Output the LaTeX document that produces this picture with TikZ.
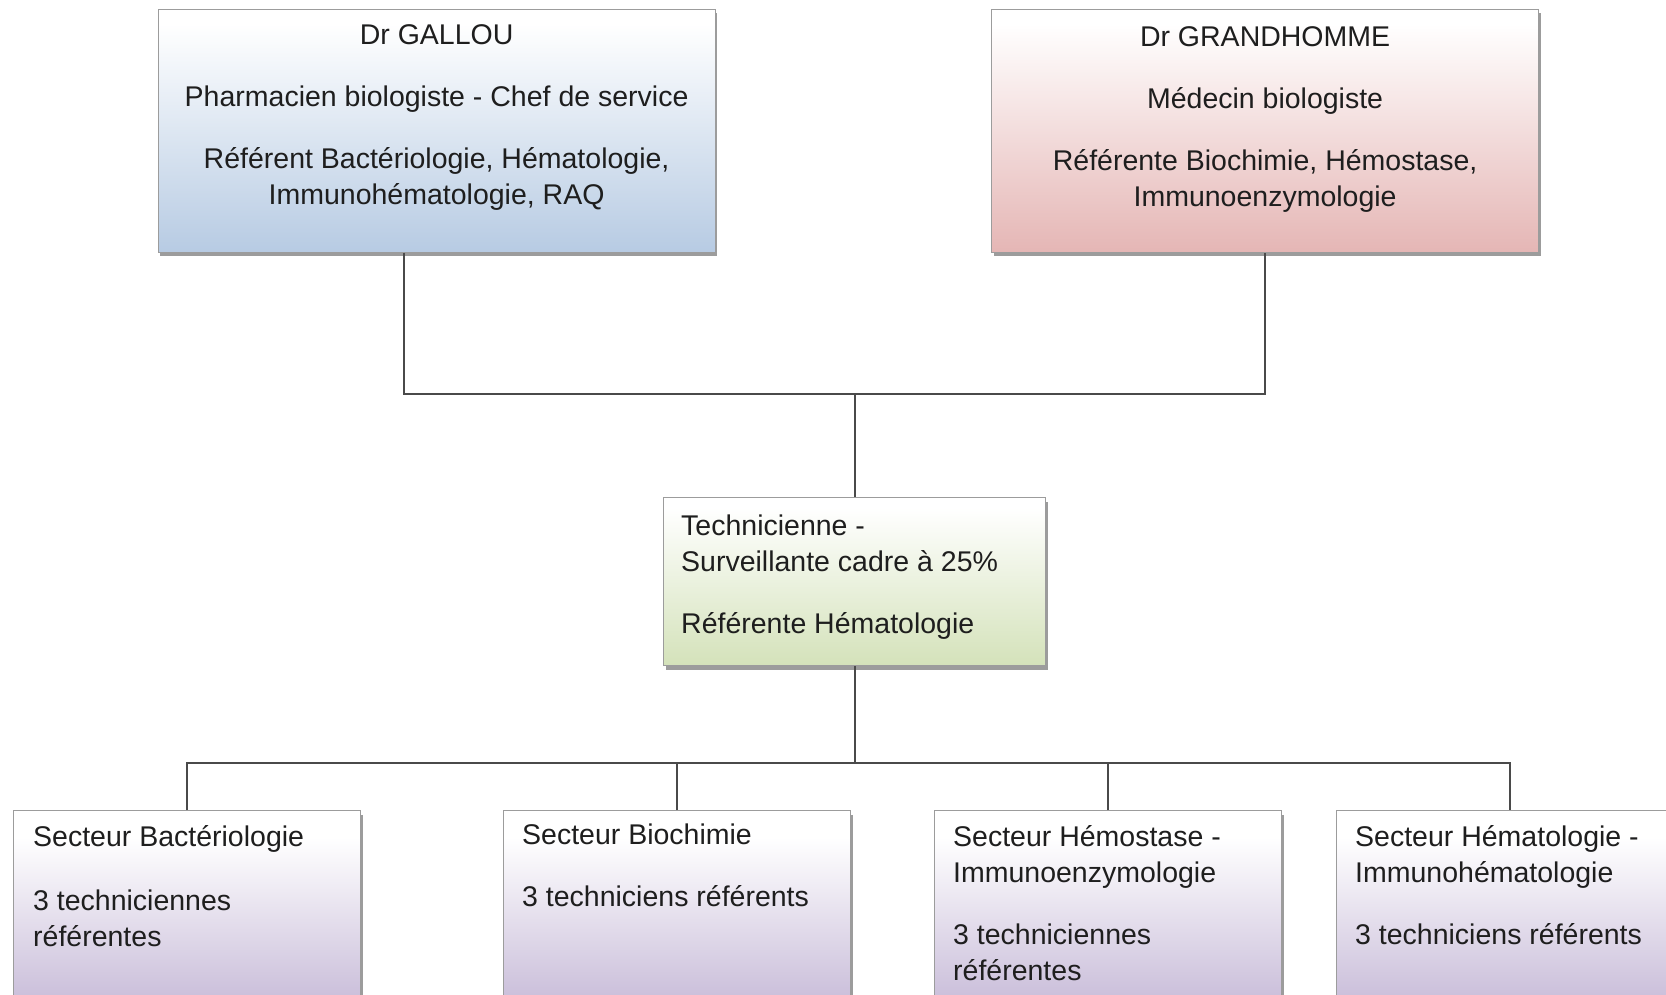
\documentclass[tikz,border=0pt]{standalone}
\usepackage{fontspec}
\setmainfont{Liberation Sans}
\usetikzlibrary{shadows}
\definecolor{cblue}{HTML}{B7CBE3}
\definecolor{cpink}{HTML}{E5B6B5}
\definecolor{cgreen}{HTML}{D4E2BA}
\definecolor{clav}{HTML}{CABEDA}
\definecolor{cline}{HTML}{4A4A4A}
\definecolor{cborder}{HTML}{9C9C9C}
\definecolor{ctext}{HTML}{1E1E1E}
\pgfdeclareverticalshading{blueg}{100bp}{color(0bp)=(cblue); color(25bp)=(cblue); color(72bp)=(white); color(100bp)=(white)}
\pgfdeclareverticalshading{pinkg}{100bp}{color(0bp)=(cpink); color(25bp)=(cpink); color(72bp)=(white); color(100bp)=(white)}
\pgfdeclareverticalshading{greeng}{100bp}{color(0bp)=(cgreen); color(25bp)=(cgreen); color(72bp)=(white); color(100bp)=(white)}
\pgfdeclareverticalshading{lavg}{100bp}{color(0bp)=(clav); color(25bp)=(clav); color(68bp)=(white); color(100bp)=(white)}
\tikzset{
  box/.style={draw=cborder, line width=1.2pt, inner sep=0, anchor=north west,
    drop shadow={shadow xshift=2pt, shadow yshift=-4pt, fill=black!55, opacity=0.7}},
  txt/.style={font=\fontsize{28.5}{36}\selectfont, inner sep=0, text=ctext},
  conn/.style={draw=cline, line width=2pt},
}
\begin{document}
\begin{tikzpicture}[x=1pt, y=-1pt]
\useasboundingbox (0,0) rectangle (1666,994);
\fill[white] (0,0) rectangle (1666,994);
\clip (0,0) rectangle (1666,994);

% top boxes
\node[box, shading=blueg, minimum width=557pt, minimum height=243pt] (gallou) at (157.5,8.5) {};
\node[box, shading=pinkg, minimum width=547pt, minimum height=243pt] (grand) at (991,8.5) {};
\node[txt, align=center, anchor=north] (gallout) at (gallou.north |- 0,18.8)
  {\strut Dr GALLOU\\[26pt] Pharmacien biologiste - Chef de service\\[26pt] Référent Bactériologie, Hématologie,\\ Immunohématologie, RAQ};
\node[txt, align=center, anchor=north] (grandt) at (grand.north |- 0,20.8)
  {\strut Dr GRANDHOMME\\[26pt] Médecin biologiste\\[26pt] Référente Biochimie, Hémostase,\\ Immunoenzymologie};

% middle box
\node[box, shading=greeng, minimum width=382pt, minimum height=168pt] (tech) at (663,497) {};
\node[txt, align=left, anchor=north west] (techt) at (681,509.8)
  {\strut Technicienne -\\ Surveillante cadre à 25\%\\[26pt] Référente Hématologie};

% bottom boxes
\node[box, shading=lavg, minimum width=347pt, minimum height=190pt] (s1) at (13,810) {};
\node[box, shading=lavg, minimum width=347pt, minimum height=190pt] (s2) at (503,810) {};
\node[box, shading=lavg, minimum width=347pt, minimum height=190pt] (s3) at (934,810) {};
\node[box, shading=lavg, minimum width=347pt, minimum height=190pt] (s4) at (1336,810) {};
\node[txt, align=left, anchor=north west] (s1t) at (33,820.8)
  {\strut Secteur Bactériologie\\[28pt] 3 techniciennes\\ référentes};
\node[txt, align=left, anchor=north west] (s2t) at (522,818.8)
  {\strut Secteur Biochimie\\[26pt] 3 techniciens référents};
\node[txt, align=left, anchor=north west] (s3t) at (953,820.8)
  {\strut Secteur Hémostase -\\ Immunoenzymologie\\[26pt] 3 techniciennes\\ référentes};
\node[txt, align=left, anchor=north west] (s4t) at (1355,820.8)
  {\strut Secteur Hématologie -\\ Immunohématologie\\[26pt] 3 techniciens référents};

% connectors
\coordinate (j1) at (tech.north |- 0,394);
\coordinate (j2) at (tech.south |- 0,763);
\draw[conn] ([xshift=-33pt]gallou.south) |- (j1) -| (grand.south);
\draw[conn] (j1) -- (tech.north);
\draw[conn] (tech.south) -- (j2);
\draw[conn] (s1.north) |- (j2) -| (s4.north);
\draw[conn] (s2.north) -- (s2.north |- j2);
\draw[conn] (s3.north) -- (s3.north |- j2);
\end{tikzpicture}
\end{document}
